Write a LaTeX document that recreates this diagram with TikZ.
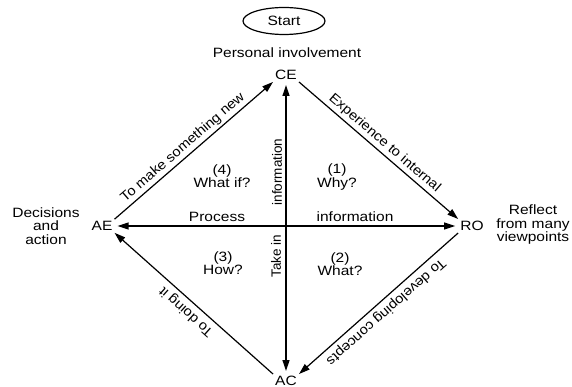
\documentclass[tikz,border=0pt]{standalone}
\usepackage{fontspec}
\setmainfont{Liberation Sans}
\newfontfamily\hfont[FakeStretch=1.15]{Liberation Sans}
\newfontfamily\dfont[FakeStretch=1.09]{Liberation Sans}
\usetikzlibrary{arrows.meta,shapes.geometric}
\begin{document}
\begin{tikzpicture}[x=1pt,y=-1pt,
  lbl/.style={font=\hfont\fontsize{13.5}{13.5}\selectfont, inner sep=0pt, align=center},
  pole/.style={font=\hfont\fontsize{13.5}{13.5}\selectfont, inner sep=2pt},
  vlbl/.style={font=\fontsize{13.5}{13.5}\selectfont, rotate=90, inner sep=0pt},
  dlbl/.style={font=\dfont\fontsize{13.5}{13.5}\selectfont, inner sep=2.5pt, sloped, allow upside down, above},
  tip/.tip={Triangle[length=11pt,width=7pt]},
  arr/.style={line width=1.2pt, -tip},
  darr/.style={line width=1.2pt, tip-tip, shorten >=3pt, shorten <=3pt}]
\useasboundingbox (0,0) rectangle (572,387);

% start
\node[draw, line width=1.2pt, ellipse, minimum width=82pt, minimum height=27pt, inner sep=0pt,
      font=\hfont\fontsize{13.5}{13.5}\selectfont] (start) at (284,21) {Start};
\node[lbl] (pi) at (287,53) {Personal involvement};

% poles
\node[pole] (CE) at (286,75) {CE};
\node[pole] (AE) at (102,226) {AE};
\node[pole] (RO) at (472,226) {RO};
\node[pole] (AC) at (286,381) {AC};

% side labels
\node[lbl] (dec) at (46,226) {Decisions\\and\\action};
\node[lbl] (ref) at (533,225) {Reflect\\from many\\viewpoints};

% axes
\draw[darr] (CE.south) -- (AC.north);
\draw[darr] (AE.east) -- (RO.west);

% diagonals
\draw[arr] (AE.north east) -- node[dlbl, pos=0.47] (d1) {To make something new} (CE.south west);
\draw[arr] (CE.south east) -- node[dlbl] (d2) {Experience to internal} (RO.north west);
\draw[arr] (RO.south west) -- node[dlbl, inner sep=4pt] (d3) {To developing concepts} (AC.north east);
\draw[arr] (AC.north west) -- node[dlbl, inner sep=4pt] (d4) {To doing it} (AE.south east);

% axis labels
\node[lbl, anchor=base] (proc) at (217,222) {Process};
\node[lbl, anchor=base] (infh) at (355,222) {information};
\node[vlbl] (infv) at (277,172) {information};
\node[vlbl] (take) at (276,256) {Take in};

% quadrant labels
\node[lbl] (q4) at (222,176) {(4)\\What if?};
\node[lbl] (q1) at (337,177) {(1)\\Why?};
\node[lbl] (q3) at (223,263) {(3)\\How?};
\node[lbl] (q2) at (340,264) {(2)\\What?};
\end{tikzpicture}
\end{document}
